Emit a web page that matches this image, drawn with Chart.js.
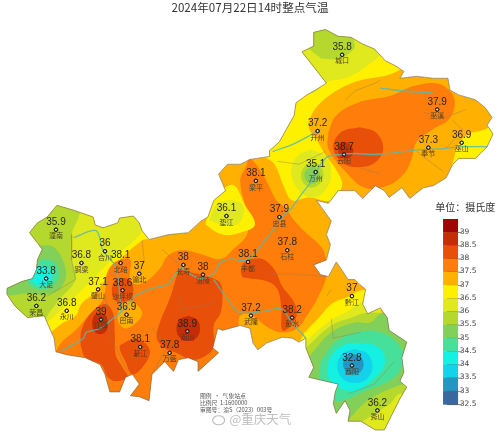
<!DOCTYPE html>
<html><head><meta charset="utf-8">
<style>html,body{margin:0;padding:0;background:#fff}#w{width:500px;height:436px;position:relative}canvas{filter:blur(0.35px)}</style>
<script src="https://cdn.jsdelivr.net/npm/chart.js@4/dist/chart.umd.min.js"></script>
</head><body><div id="w"><canvas id="c" width="500" height="436"></canvas></div>
<script>
const titleText = "2024年07月22日14时整点气温";
const stationNames = ["城口","巫溪","开州","云阳","奉节","巫山","万州","梁平","忠县","垫江","石柱","丰都","武隆","彭水","黔江","酉阳","秀山","潼南","合川","铜梁","大足","北碚","渝北","璧山","沙坪坝","荣昌","永川","巴南","江津","綦江","万盛","南川","长寿","涪陵"];
const stationTemps = ["35.8","37.9","37.2","38.7","37.3","36.9","35.1","38.1","37.9","36.1","37.8","38.1","37.2","38.2","37","32.8","36.2","35.9","36","36.8","33.8","38.1","37","37.1","38.6","36.2","36.8","36.9","39","38.1","37.8","38.9","38","38"];
const stationX = [344,441,319,346,432,466,317,256,280,226,288,248,251,293,354,354,380,52,102,78,42,118,137,95,120,32,63,124,98,138,168,186,182,202];
const stationY = [51,107,129,153,146,141,171,180,217,216,251,263,318,320,298,369,415,230,252,264,280,264,275,291,292,308,313,317,322,350,356,334,266,276];

const legendLabels = ["39","38.5","38","37.5","37","36.5","36","35.5","35","34.5","34","33.5","33","32.5"];
const legendColors = ["#a00505","#c42d05","#e8500a","#ff7d0a","#ffb000","#fff000","#e0e81e","#b4d82d","#82cf5a","#46e09b","#14f0e1","#14d2eb","#2396c3","#38689f"];
const footLines = ["图例  ·  气象站点","比例尺  1:1600000","审图号：渝S（2023）003号"];

const outline = [[315,28],[327,25],[340,32],[353,33],[365,40],[377,45],[388,57],[398,62],[407,68],[403,75],[420,73],[437,75],[452,75],[454,87],[463,92],[480,97],[490,105],[497,115],[492,123],[498,132],[492,145],[480,157],[463,157],[457,163],[450,177],[437,185],[427,187],[413,198],[405,187],[392,197],[387,190],[378,185],[365,198],[357,190],[340,190],[330,203],[318,200],[330,217],[333,221],[328,235],[332,245],[328,261],[315,266],[322,276],[330,278],[338,263],[345,273],[350,281],[357,281],[362,286],[368,291],[365,306],[370,316],[383,310],[390,320],[392,333],[410,345],[405,361],[407,376],[403,385],[410,391],[403,403],[387,435],[378,435],[363,426],[350,426],[352,415],[347,405],[338,418],[335,408],[337,396],[340,388],[327,385],[310,381],[315,371],[307,351],[307,341],[300,345],[293,341],[283,340],[267,346],[258,353],[253,346],[250,331],[240,328],[222,333],[217,331],[212,351],[218,356],[197,375],[197,365],[187,361],[177,363],[172,375],[163,365],[150,378],[147,405],[137,401],[128,400],[137,388],[130,378],[123,381],[117,396],[107,396],[102,378],[97,368],[82,361],[63,358],[52,355],[50,341],[43,325],[40,318],[23,320],[10,308],[2,296],[2,290],[17,283],[28,280],[32,271],[33,261],[38,250],[25,233],[33,223],[43,217],[53,205],[70,210],[90,217],[92,225],[100,228],[115,223],[117,218],[131,216],[137,223],[140,231],[147,240],[167,235],[187,233],[200,221],[207,217],[213,200],[225,190],[218,173],[227,163],[240,163],[250,158],[270,155],[270,149],[280,140],[295,113],[297,100],[308,92],[317,87],[328,80],[303,48],[315,42]];

const northYellow = [[410,63],[390,72],[363,77],[343,85],[322,100],[313,112],[310,125],[318,138],[328,155],[337,167],[344,185],[332,200],[310,197],[293,200],[285,187],[275,163],[263,152],[255,100],[300,15],[420,15]];
const northGreenYellow = [[330,78],[350,74],[370,62],[382,50],[363,37],[300,10],[285,50],[310,90]];
const northLime = [[323,55],[340,55],[353,48],[357,42],[353,32],[330,15],[300,20],[308,42]];
const wanzhouOuter = [[312,148],[327,155],[333,172],[328,188],[315,197],[300,190],[292,172],[298,155]];
const wanzhouLime = [[314,160],[322,165],[325,174],[321,183],[313,187],[305,183],[302,174],[306,165]];
const wanzhouGreen = [[313,165],[320,170],[321,177],[314,183],[307,179],[306,171]];
const eastYellow = [[500,122],[488,128],[473,132],[463,142],[458,157],[457,167],[483,163],[503,143]];
const neOrange = [[330,130],[338,113],[360,100],[393,93],[417,83],[440,80],[453,87],[459,100],[453,117],[437,127],[420,140],[415,157],[407,173],[390,185],[367,187],[347,170],[330,147]];
const yunyangRed = [[362,125],[378,130],[386,146],[378,161],[362,166],[345,162],[335,146],[343,130]];
const yunyangDark = [[340,143],[347,140],[355,147],[353,155],[342,155]];
const dianjiangYellow = [[205,222],[213,200],[232,184],[245,205],[255,225],[240,233],[222,235],[205,225]];
const dianjiangGreen = [[208,220],[217,203],[232,200],[243,205],[240,222],[225,226]];
const westYellow = [[47,335],[58,326],[72,318],[78,306],[93,293],[103,280],[115,263],[140,241],[150,238],[155,215],[110,195],[30,200],[0,300],[30,350]];
const westGreenYellow = [[43,325],[65,305],[80,290],[95,275],[113,256],[133,240],[142,226],[137,215],[100,200],[60,205],[60,280],[35,320]];
const westLime = [[75,218],[68,235],[68,261],[72,281],[57,300],[45,315],[40,322],[0,330],[0,200],[78,200]];
const westGreen = [[33,246],[50,248],[62,271],[58,288],[43,296],[23,295],[0,295],[0,270],[25,265]];
const westTeal = [[38,260],[50,263],[55,275],[50,286],[37,291],[25,286],[23,278],[30,268]];
const westCyan = [[35,267],[43,268],[48,278],[42,286],[32,286],[25,278]];
const mainOrange = [[50,358],[58,345],[72,333],[85,318],[97,306],[102,295],[103,278],[110,265],[120,260],[128,261],[128,283],[140,285],[157,271],[167,256],[182,251],[200,255],[220,260],[233,250],[247,235],[247,215],[240,180],[246,165],[250,157],[263,173],[277,200],[287,208],[293,218],[307,233],[323,248],[328,263],[328,278],[320,298],[308,318],[298,331],[283,335],[270,331],[257,321],[250,316],[240,318],[238,331],[230,360],[200,400],[150,420],[90,410],[50,380]];
const bananAmber = [[118,306],[130,304],[140,315],[133,326],[122,331],[115,322]];
const centerRed = [[178,270],[187,273],[200,276],[213,280],[220,285],[222,298],[220,315],[213,328],[213,350],[203,360],[190,363],[175,356],[163,351],[155,341],[158,325],[165,308],[170,295],[175,278]];
const jiangjinRed = [[77,348],[78,333],[88,315],[102,306],[110,315],[112,335],[113,358],[120,371],[125,381],[113,385],[105,381],[98,368],[82,361]];
const qijiangRed = [[123,345],[132,341],[143,346],[148,356],[140,371],[130,378],[123,365],[117,350]];
const shapingbaRed = [[109,290],[113,281],[127,281],[131,291],[128,301],[115,304],[110,298]];
const fengduRed = [[250,260],[263,260],[275,271],[283,288],[293,301],[298,315],[292,328],[283,333],[282,311],[278,291],[268,283],[250,280],[242,278],[242,266]];
const jiangjinDark = [[97,315],[103,318],[105,326],[103,334],[97,337],[91,334],[89,326],[91,318]];
const nanchuanDark = [[187,318],[196,322],[199,331],[196,340],[187,344],[178,340],[175,331],[178,322]];
const seYellow = [[305,336],[322,318],[333,306],[347,300],[368,292],[385,310],[320,360],[300,350]];
const seGreenYellow = [[308,343],[332,323],[347,315],[368,304],[385,320],[320,370],[300,355]];
const seLime = [[308,350],[333,328],[353,320],[372,315],[400,320],[330,375],[300,365]];
const seGreen = [[312,358],[333,335],[357,325],[373,325],[383,316],[395,315],[418,345],[418,385],[407,388],[370,405],[350,425],[320,420],[300,380]];
const seTeal = [[322,365],[337,345],[360,335],[383,335],[400,346],[407,361],[397,381],[367,395],[337,405],[322,385]];
const seCyan = [[330,365],[340,351],[360,346],[382,351],[388,365],[378,381],[357,395],[340,391],[330,381]];
const seCyanDeep = [[357,352],[370,357],[375,370],[370,382],[357,387],[344,382],[339,370],[344,357]];
const seBlue = [[355,357],[363,360],[366,368],[363,375],[355,378],[348,375],[345,368],[348,360]];
const xiushanLime = [[350,425],[370,405],[407,388],[420,390],[410,445],[350,445]];
const xiushanGreenYellow = [[365,426],[377,418],[393,408],[403,398],[420,405],[400,445],[380,445]];

const rivers = [
 [[497,145],[467,145],[447,147],[423,148],[407,150],[390,152],[373,153],[357,152],[343,153],[330,155],[322,163],[313,180],[303,193],[293,207],[283,217],[270,235],[247,261],[230,260],[220,263],[213,275],[200,280],[190,276],[182,270],[177,271],[167,285],[147,291],[133,298],[120,313],[110,321],[97,331],[83,335],[80,341],[63,351],[57,355]],
 [[273,150],[293,143],[312,133],[322,127]],
 [[383,85],[407,88],[437,90]],
 [[213,281],[227,301],[240,315],[267,313],[282,311],[293,325],[307,341]],
 [[70,238],[93,231],[100,251],[113,268],[117,296],[118,313]]
];
const boundaries = [
 [[347,98],[357,88],[378,80],[383,77]],
 [[427,110],[450,115],[470,107]],
 [[457,118],[467,128],[450,147]],
 [[420,150],[437,163],[447,170]],
 [[278,160],[300,163],[327,150]],
 [[363,167],[383,173]],
 [[68,235],[68,261],[72,281],[43,298]],
 [[140,241],[142,261],[137,275]],
 [[177,298],[180,311],[200,308],[213,305]],
 [[160,250],[177,265]],
 [[270,275],[293,275],[327,278]],
 [[333,321],[335,341],[363,335]],
 [[350,398],[377,388],[397,365]],
 [[333,291],[328,298]],
 [[102,295],[108,340],[125,375]],
 [[150,330],[165,350],[150,378]]
];

const toPts = a => a.map(p => ({x:p[0],y:p[1]}));
const closed = a => toPts(a.concat([a[0]]));
const area = (a,color) => ({data:closed(a),showLine:true,fill:'shape',backgroundColor:color,borderColor:color,borderWidth:0,pointRadius:0,tension:0.38,clip:false});
const C = {y:legendColors[5],gy:legendColors[6],li:legendColors[7],g:legendColors[8],t:legendColors[9],cy:legendColors[10],cy2:legendColors[11],b:legendColors[12],o:legendColors[3],r:legendColors[2],d:legendColors[1],a:legendColors[4]};

const layers = [
 area(outline,C.a),
 area(northYellow,C.y),area(northGreenYellow,C.gy),area(northLime,C.li),
 area(eastYellow,C.y),area(neOrange,C.o),area(yunyangRed,C.r),area(yunyangDark,C.d),
 area(wanzhouOuter,C.gy),area(wanzhouLime,C.li),area(wanzhouGreen,C.g),
 area(westYellow,C.y),area(westGreenYellow,C.gy),area(westLime,C.li),area(westGreen,C.g),area(westTeal,C.t),area(westCyan,C.cy),
 area(mainOrange,C.o),area(bananAmber,C.a),
 area(centerRed,C.r),area(jiangjinRed,C.r),area(qijiangRed,C.r),area(shapingbaRed,C.r),area(fengduRed,C.r),
 area(jiangjinDark,C.d),area(nanchuanDark,C.d),
 area(dianjiangYellow,C.y),area(dianjiangGreen,C.gy),
 area(seYellow,C.y),area(seGreenYellow,C.gy),area(seLime,C.li),
 area(seGreen,C.g),area(seTeal,C.t),area(seCyan,C.cy),area(seCyanDeep,C.cy2),area(seBlue,C.b),
 area(xiushanLime,C.li),area(xiushanGreenYellow,C.gy)
];
layers[0].tension = 0;
const lineDs = (a,color,w,t) => ({data:toPts(a),showLine:true,fill:false,borderColor:color,borderWidth:w,pointRadius:0,tension:t,clip:false});
const riverSets = rivers.map(r => lineDs(r,'rgba(90,185,170,0.85)',1.3,0.3));
const boundarySets = boundaries.map(r => lineDs(r,'rgba(140,125,90,0.5)',0.8,0));
const stationSet = {data:stationX.map((x,i)=>({x,y:stationY[i]})),showLine:false,pointRadius:1.7,pointBorderWidth:1,pointBackgroundColor:'rgba(255,255,255,0.35)',pointBorderColor:'#1c1c1c',clip:false};
const all = [...layers,...boundarySets,...riverSets];
all.forEach((d,i)=>{d.order = all.length - i + 1;});
stationSet.order = 0;
all.push(stationSet);

const mapPlugin = {
 id:'mapPlugin',
 beforeDatasetsDraw(ch){
  const {ctx,scales:{x,y}} = ch;
  ctx.save();
  ctx.beginPath();
  outline.forEach((p,i)=>{const X=x.getPixelForValue(p[0]),Y=y.getPixelForValue(p[1]); i?ctx.lineTo(X,Y):ctx.moveTo(X,Y);});
  ctx.closePath();
  ctx.clip();
 },
 afterDatasetsDraw(ch){
  const {ctx,scales:{x,y}} = ch;
  ctx.restore();
  ctx.save();
  ctx.beginPath();
  outline.forEach((p,i)=>{const X=x.getPixelForValue(p[0]),Y=y.getPixelForValue(p[1]); i?ctx.lineTo(X,Y):ctx.moveTo(X,Y);});
  ctx.closePath();
  ctx.strokeStyle='rgba(120,105,70,0.8)';ctx.lineWidth=0.8;ctx.stroke();
  const meta = ch.getDatasetMeta(ch.data.datasets.length-1);
  meta.data.forEach(pt=>pt.draw(ctx));
  ctx.textAlign='center';ctx.textBaseline='middle';
  stationNames.forEach((n,i)=>{
   const X=x.getPixelForValue(stationX[i]),Y=y.getPixelForValue(stationY[i]);
   ctx.fillStyle='#2a2618';ctx.font='10px "Liberation Sans"';
   ctx.fillText(stationTemps[i],X,Y-7.5);
   ctx.fillStyle='#4a3f25';ctx.font='7px "Noto Sans CJK SC"';
   ctx.fillText(n,X,Y+6);
  });
  ctx.fillStyle='#333';ctx.font='11.6px "Noto Sans CJK SC"';
  ctx.fillText(titleText,250,8);
  const bx=447,bw=15,top=219,h=13.55;
  legendColors.forEach((c,i)=>{
   const Y=y.getPixelForValue(top+i*h);
   ctx.fillStyle=c;ctx.fillRect(x.getPixelForValue(bx),Y,bw,h);
   ctx.strokeStyle='rgba(50,50,30,0.75)';ctx.lineWidth=0.8;
   ctx.beginPath();ctx.moveTo(bx,Y+h);ctx.lineTo(bx+bw,Y+h);ctx.stroke();
  });
  ctx.textAlign='left';ctx.fillStyle='#444';ctx.font='7.5px "DejaVu Sans"';
  legendLabels.forEach((t,i)=>ctx.fillText(t,x.getPixelForValue(464),y.getPixelForValue(232+i*13.55)));
  ctx.fillStyle='#333';ctx.font='10px "Noto Sans CJK SC"';
  ctx.fillText("单位：摄氏度",x.getPixelForValue(439),y.getPixelForValue(207));
  ctx.fillStyle='#555';ctx.font='5.8px "Noto Sans CJK SC"';
  footLines.forEach((t,i)=>ctx.fillText(t,x.getPixelForValue(199),y.getPixelForValue(400+i*7)));
  ctx.fillStyle='rgba(170,170,170,0.75)';ctx.font='12.5px "Noto Sans CJK SC"';
  ctx.fillText("@重庆天气",x.getPixelForValue(229),y.getPixelForValue(424));
  ctx.strokeStyle='rgba(170,170,170,0.75)';ctx.lineWidth=1.2;
  ctx.beginPath();ctx.ellipse(x.getPixelForValue(218),y.getPixelForValue(425),6,4.5,0,0,Math.PI*2);ctx.stroke();
  ctx.restore();
 }
};

new Chart(document.getElementById('c'),{
 type:'scatter',
 data:{datasets:all},
 plugins:[mapPlugin],
 options:{
  responsive:false,animation:false,devicePixelRatio:1,
  layout:{padding:0},
  plugins:{legend:{display:false},tooltip:{enabled:false},title:{display:false}},
  events:[],
  scales:{
   x:{type:'linear',min:0,max:500,display:false},
   y:{type:'linear',min:0,max:436,reverse:true,display:false}
  }
 }
});
</script></body></html>
